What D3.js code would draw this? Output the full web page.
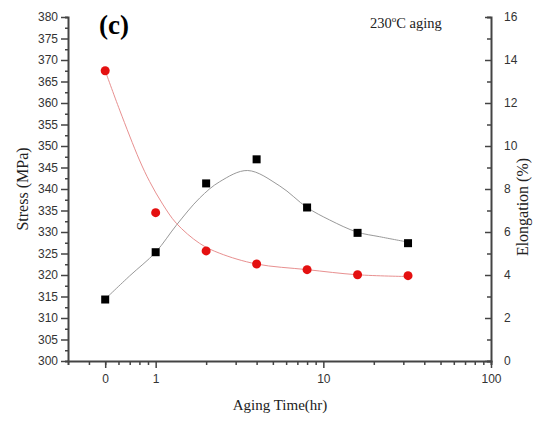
<!DOCTYPE html>
<html>
<head>
<meta charset="utf-8">
<script src="https://cdn.jsdelivr.net/npm/d3@7"></script>
<style>
  body { margin: 0; background: #fff; }
  .tick text { font-family: "Liberation Sans", Arial, sans-serif; font-size: 12px; fill: #333; }
  .serif { font-family: "Liberation Serif", "Times New Roman", serif; fill: #222; }
</style>
</head>
<body>
<svg id="mainSVG"></svg>
<script>
// aging times (hr); the 0 hr sample sits at zeroPos on the log axis
var times = [0, 1, 2, 4, 8, 16, 32];
var zeroPos = 0.5;
// measured values
var stress = [314.3, 325.3, 341.3, 346.9, 335.7, 329.8, 327.4];
var elongation = [13.5, 6.9, 5.12, 4.51, 4.25, 4.01, 3.97];
// fitted curves, [time, value]
var stressFit = [[0.5, 314.4], [0.7, 319.8], [1, 325.3], [1.33, 331.6], [1.83, 337.9], [2.41, 341.7],
                 [3.54, 344.3], [5.5, 340.7], [8, 335.7], [10.9, 332.8], [15.85, 330.0], [21.7, 328.9], [31.5, 327.7]];
var elongFit = [[0.5, 13.5], [0.61, 11.67], [0.8, 9.35], [0.92, 8.35], [1.1, 7.3], [1.33, 6.4], [1.83, 5.47],
                [2.41, 5.01], [4, 4.51], [8, 4.25], [16, 4.01], [31.5, 3.93]];
// ticks
var stressTicks = d3.range(300, 381, 5);
var elongTicks = d3.range(0, 17, 2);
var timeTicks = [zeroPos, 1, 10, 100];
var timeTickLabels = ["0", "1", "10", "100"];

var width = 535, height = 421;
var margin = { top: 17, right: 44, bottom: 60, left: 68 };

var svg = d3.select("#mainSVG")
    .attr("width", width)
    .attr("height", height);

var x = d3.scaleLog()
    .domain([0.3, 100])
    .range([margin.left, width - margin.right]);
var yL = d3.scaleLinear()
    .domain([300, 380])
    .range([height - margin.bottom, margin.top]);
var yR = d3.scaleLinear()
    .domain([0, 16])
    .range([height - margin.bottom, margin.top]);

function tx(t) { return x(t === 0 ? zeroPos : t); }

var axisColor = "#444";

// minor tick positions
var minorTime = [0.4, 0.5, 0.6, 0.7, 0.8, 0.9].concat(d3.range(2, 10), d3.range(20, 100, 10));
var minorStress = d3.range(302.5, 380, 5);
var minorElong = d3.range(1, 16, 2);

// bottom axis
var gx = svg.append("g")
    .attr("transform", "translate(0," + (height - margin.bottom) + ")");
gx.call(d3.axisBottom(x).tickValues(minorTime).tickSize(4).tickFormat(""));
gx.append("g").call(d3.axisBottom(x).tickValues(timeTicks).tickSize(7).tickPadding(6)
    .tickFormat(function (d, i) { return timeTickLabels[i]; }));

// left axis
var gl = svg.append("g")
    .attr("transform", "translate(" + margin.left + ",0)");
gl.call(d3.axisLeft(yL).tickValues(minorStress).tickSize(3).tickFormat(""));
gl.append("g").call(d3.axisLeft(yL).tickValues(stressTicks).tickSize(7).tickPadding(3));

// right axis, ticks point inward
var gr = svg.append("g")
    .attr("transform", "translate(" + (width - margin.right) + ",0)");
gr.call(d3.axisRight(yR).tickValues(minorElong).tickSize(-4).tickFormat(""));
gr.append("g").call(d3.axisRight(yR).tickValues(elongTicks).tickSize(-6).tickPadding(13));

svg.selectAll(".domain").attr("stroke", axisColor).attr("stroke-width", 2);
svg.selectAll(".tick line").attr("stroke", axisColor).attr("stroke-width", 1.5);
gx.selectAll(".domain").filter(function (d, i) { return i > 0; }).remove();
gl.selectAll("g .domain").filter(function (d, i) { return i > 0; }).remove();
gr.selectAll("g .domain").filter(function (d, i) { return i > 0; }).remove();

// fit curves
var lineL = d3.line()
    .x(function (d) { return x(d[0]); })
    .y(function (d) { return yL(d[1]); })
    .curve(d3.curveCatmullRom);
var lineR = d3.line()
    .x(function (d) { return x(d[0]); })
    .y(function (d) { return yR(d[1]); })
    .curve(d3.curveCatmullRom);

svg.append("path")
    .attr("d", lineL(stressFit))
    .attr("fill", "none")
    .attr("stroke", "#999")
    .attr("stroke-width", 1);
svg.append("path")
    .attr("d", lineR(elongFit))
    .attr("fill", "none")
    .attr("stroke", "#e89090")
    .attr("stroke-width", 1);

// stress squares
svg.append("g")
    .selectAll("rect")
    .data(d3.range(times.length))
    .enter()
    .append("rect")
    .attr("x", function (d) { return tx(times[d]) - 4; })
    .attr("y", function (d) { return yL(stress[d]) - 4; })
    .attr("width", 8)
    .attr("height", 8)
    .attr("fill", "#000");

// elongation circles
svg.append("g")
    .selectAll("circle")
    .data(d3.range(times.length))
    .enter()
    .append("circle")
    .attr("cx", function (d) { return tx(times[d]); })
    .attr("cy", function (d) { return yR(elongation[d]); })
    .attr("r", 4.5)
    .attr("fill", "#e41010");

// labels
svg.append("text")
    .attr("class", "serif")
    .attr("transform", "translate(28," + ((margin.top + height - margin.bottom) / 2) + ") rotate(-90)")
    .attr("text-anchor", "middle")
    .style("font-size", "16px")
    .text("Stress (MPa)");

svg.append("text")
    .attr("class", "serif")
    .attr("transform", "translate(528," + 207 + ") rotate(-90)")
    .attr("text-anchor", "middle")
    .style("font-size", "16px")
    .text("Elongation (%)");

svg.append("text")
    .attr("class", "serif")
    .attr("x", 280)
    .attr("y", 410)
    .attr("text-anchor", "middle")
    .style("font-size", "15px")
    .text("Aging Time(hr)");

svg.append("text")
    .attr("class", "serif")
    .attr("x", 99)
    .attr("y", 34)
    .style("font-size", "27px")
    .style("font-weight", "bold")
    .style("fill", "#000")
    .text("(c)");

var note = svg.append("text")
    .attr("class", "serif")
    .attr("x", 370)
    .attr("y", 28)
    .style("font-size", "14.5px");
note.append("tspan").text("230");
note.append("tspan").attr("dy", -6).style("font-size", "9px").text("o");
note.append("tspan").attr("dy", 6).text("C aging");
</script>
</body>
</html>
